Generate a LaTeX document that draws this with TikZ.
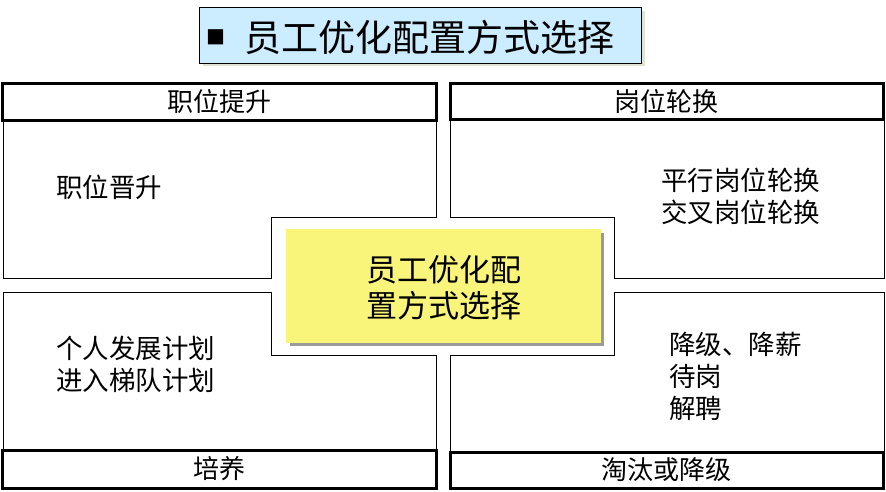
\documentclass[tikz,border=0pt]{standalone}
\usepackage{fontspec}
\setmainfont{Noto Sans CJK SC}
\usepackage{xcolor,tikz}
\usetikzlibrary{positioning,calc}
\definecolor{titleBlue}{HTML}{CCECFF}
\definecolor{noteYellow}{HTML}{F9F57A}
\definecolor{shadowGrey}{HTML}{9A9A9A}
\definecolor{shadowPale}{HTML}{E2E2D6}

\tikzset{
  hdrbox/.style={draw=black, line width=3pt, fill=white, inner sep=0pt,
    font=\fontsize{26}{30}\selectfont},
  bodyline/.style={draw=black, line width=1pt},
  bodytext/.style={anchor=west, align=left, inner sep=0pt,
    font=\fontsize{26.5}{32}\selectfont}
}

\begin{document}
\begin{tikzpicture}[x=1pt, y=-1pt]

\useasboundingbox (0,0) rectangle (886,491);

\def\xL{3}      % outer left
\def\xR{884}    % outer right
\def\xMl{436}   % gap left edge
\def\xMr{450}   % gap right edge
\def\yMt{278}   % gap top edge
\def\yMb{292}   % gap bottom edge

% --- TITLE ---
\fill[shadowPale] (203,11) rectangle (645,66);
\draw[fill=titleBlue, line width=1pt] (199,7) rectangle (641,63);
\node[font=\fontsize{19}{19}\selectfont, inner sep=0pt] (bullet)
  at (216,37) {■};
\node[font=\fontsize{37}{40}\selectfont, inner sep=0pt, anchor=west] (title)
  at (244,37) {员工优化配置方式选择};

% --- QUADRANT BODIES (with notch round the centre) ---
\draw[bodyline] (\xL,121) -- (\xL,\yMt) -- (271,\yMt) -- (271,217)
  -- (\xMl,217) -- (\xMl,121);
\draw[bodyline] (\xMr,121) -- (\xMr,217) -- (614,217) -- (614,\yMt)
  -- (\xR,\yMt) -- (\xR,121);
\draw[bodyline] (\xL,450) -- (\xL,\yMb) -- (271,\yMb) -- (271,355)
  -- (\xMl,355) -- (\xMl,450);
\draw[bodyline] (\xMr,452) -- (\xMr,355) -- (614,355) -- (614,\yMb)
  -- (\xR,\yMb) -- (\xR,452);

% --- HEADERS ---
\node[hdrbox, minimum width=434pt, minimum height=37pt] (hdrTL)
  at (219,101.5) {职位提升};
\node[hdrbox, minimum width=433pt, minimum height=36pt] (hdrTR)
  at (666.5,101.5) {岗位轮换};
\node[hdrbox, minimum width=434pt, minimum height=38pt] (hdrBL)
  at (219,469) {培养};
\node[hdrbox, minimum width=433pt, minimum height=36pt] (hdrBR)
  at (666.5,470) {淘汰或降级};

% --- BODY TEXTS ---
\node[bodytext] (txtTL) at (56,187) {职位晋升};
\node[bodytext] (txtTR) at (661,196) {平行岗位轮换\\交叉岗位轮换};
\node[bodytext] (txtBL) at (56,364) {个人发展计划\\进入梯队计划};
\node[bodytext] (txtBR) at (669,376) {降级、降薪\\待岗\\解聘};

% --- CENTRE NOTE ---
\fill[shadowGrey] (290,233) rectangle (604,346);
\fill[noteYellow] (286,229) rectangle (601,343);
\node[align=center, inner sep=0pt, font=\fontsize{31}{36}\selectfont]
  (centre) at (443.5,288) {员工优化配\\置方式选择};

\end{tikzpicture}
\end{document}
